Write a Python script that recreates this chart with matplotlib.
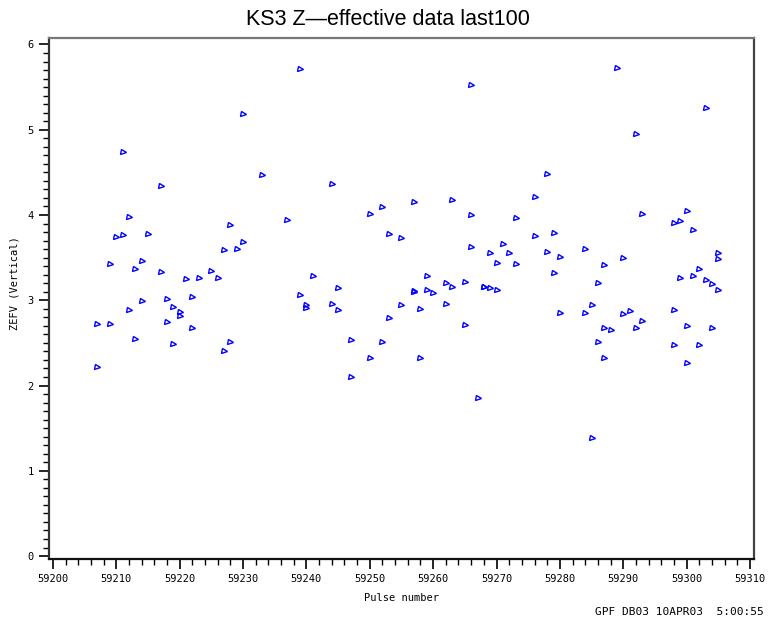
import matplotlib
matplotlib.use('Agg')
import matplotlib.pyplot as plt
from matplotlib.ticker import MultipleLocator

# pulse numbers and the Z-effective value read for each point
pulse = [59207, 59207, 59209, 59209, 59210, 59211, 59211, 59212, 59212, 59213,
         59213, 59214, 59214, 59215, 59217, 59217, 59218, 59218, 59219, 59219,
         59220, 59220, 59221, 59222, 59222, 59223, 59225, 59226, 59227, 59227,
         59228, 59228, 59229, 59230, 59230, 59233, 59237, 59239, 59239, 59240,
         59240, 59241, 59244, 59244, 59245, 59245, 59247, 59247, 59250, 59250,
         59252, 59252, 59253, 59253, 59255, 59255, 59257, 59257, 59257, 59258,
         59258, 59259, 59259, 59260, 59262, 59262, 59263, 59263, 59265, 59265,
         59266, 59266, 59266, 59267, 59268, 59268, 59269, 59269, 59270, 59270,
         59271, 59272, 59273, 59273, 59276, 59276, 59278, 59278, 59279, 59279,
         59280, 59280, 59284, 59284, 59285, 59285, 59286, 59286, 59287, 59287,
         59287, 59288, 59289, 59290, 59290, 59291, 59292, 59292, 59293, 59293,
         59298, 59298, 59298, 59299, 59299, 59300, 59300, 59300, 59301, 59301,
         59302, 59302, 59303, 59303, 59304, 59304, 59305, 59305, 59305]
zefv = [2.72, 2.22, 3.43, 2.72, 3.74, 4.74, 3.77, 3.98, 2.89, 3.37,
        2.54, 3.46, 2.99, 3.78, 4.34, 3.33, 3.01, 2.75, 2.92, 2.49,
        2.86, 2.81, 3.25, 3.04, 2.67, 3.26, 3.34, 3.26, 3.59, 2.41,
        3.88, 2.51, 3.60, 5.19, 3.68, 4.47, 3.94, 5.71, 3.06, 2.94,
        2.91, 3.28, 4.36, 2.96, 3.14, 2.88, 2.53, 2.10, 4.01, 2.32,
        4.09, 2.51, 3.78, 2.79, 3.73, 2.94, 4.15, 3.10, 3.11, 2.90,
        2.32, 3.28, 3.12, 3.08, 3.20, 2.96, 4.18, 3.16, 3.21, 2.71,
        5.53, 4.00, 3.62, 1.85, 3.16, 3.15, 3.55, 3.14, 3.44, 3.12,
        3.66, 3.56, 3.96, 3.42, 4.21, 3.75, 4.48, 3.57, 3.79, 3.32,
        3.51, 2.85, 3.60, 2.85, 2.95, 1.38, 3.20, 2.51, 3.41, 2.67,
        2.32, 2.65, 5.72, 3.49, 2.84, 2.87, 4.95, 2.68, 4.01, 2.76,
        3.91, 2.88, 2.48, 3.93, 3.26, 4.05, 2.70, 2.27, 3.82, 3.29,
        3.37, 2.47, 5.25, 3.24, 3.19, 2.68, 3.56, 3.48, 3.12]

x_ticks = [59200, 59210, 59220, 59230, 59240, 59250, 59260, 59270, 59280, 59290, 59300, 59310]
y_ticks = [0, 1, 2, 3, 4, 5, 6]

fig = plt.figure(figsize=(7.76, 6.21), dpi=100)
ax = fig.add_axes([0.0631, 0.0998, 0.9085, 0.839])

# small open right-pointing triangles
ax.plot(pulse, zefv, linestyle='none', marker='>', markersize=3.6,
        markerfacecolor='none', markeredgecolor='#0000ff', markeredgewidth=1.0)

ax.set_xlim(59199.37, 59310.63)
ax.set_ylim(-0.035, 6.076)
ax.set_xticks(x_ticks)
ax.set_yticks(y_ticks)
ax.xaxis.set_minor_locator(MultipleLocator(2))
ax.yaxis.set_minor_locator(MultipleLocator(0.1))

ax.tick_params(which='major', direction='out', length=7, width=1.2, color='black',
               labelsize=7.5, pad=4)
ax.tick_params(which='minor', direction='out', length=4, width=1.0, color='black')
for lab in ax.get_xticklabels() + ax.get_yticklabels():
    lab.set_family('DejaVu Sans Mono')

# frame: dark left/bottom, grey top/right like the original
ax.spines['left'].set_color('#333333')
ax.spines['bottom'].set_color('#111111')
ax.spines['top'].set_color('#777777')
ax.spines['right'].set_color('#444444')
for sp in ax.spines.values():
    sp.set_linewidth(1.6)

ax.set_xlabel('Pulse number', family='DejaVu Sans Mono', fontsize=7.5, labelpad=6)
ax.set_ylabel('ZEFV (Vertical)', family='DejaVu Sans Mono', fontsize=7.5)
ax.yaxis.set_label_coords(-0.042, 0.53)

fig.text(0.5, 0.969, 'KS3 Z\u2014effective data last100', ha='center', va='center',
         family='Liberation Sans', fontsize=15.5)
fig.text(0.984, 0.015, 'GPF DB03 10APR03  5:00:55', ha='right', va='center',
         family='DejaVu Sans Mono', fontsize=8)

fig.savefig('out.png', dpi=100)
